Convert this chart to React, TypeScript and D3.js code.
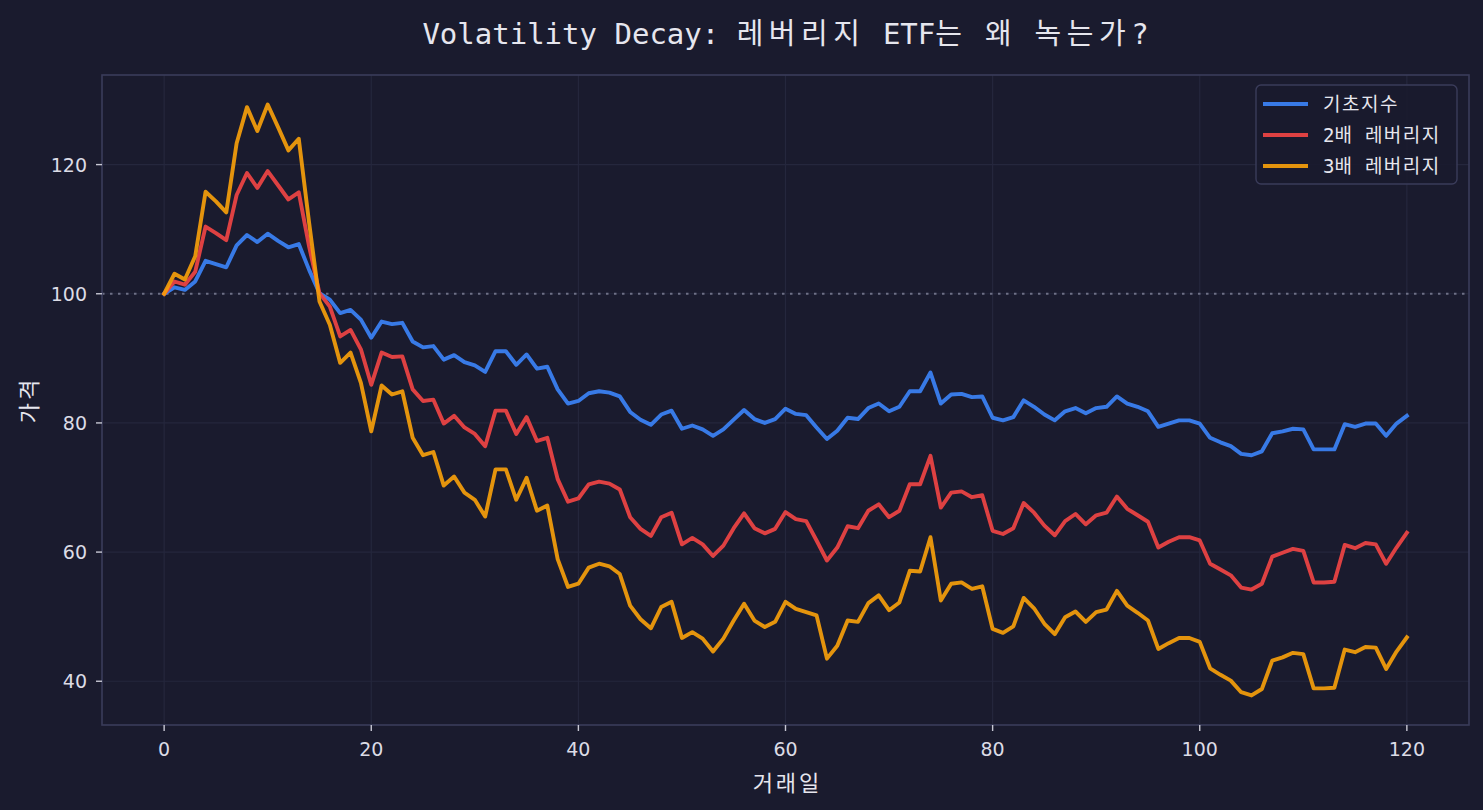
import * as d3 from "d3";
import React, { useEffect } from "react";

// 기초지수 / 2배 / 3배 가격 (거래일 0..120)
const baseIndex = [
  100, 101.0, 100.6, 101.9, 105.1, 104.6, 104.1, 107.5, 109.1, 108.0,
  109.3, 108.2, 107.2, 107.7, 103.7, 100.1, 99.1, 97.0, 97.5, 96.0,
  93.2, 95.7, 95.3, 95.5, 92.6, 91.7, 91.9, 89.8, 90.5, 89.4,
  88.9, 87.9, 91.1, 91.1, 89.0, 90.6, 88.4, 88.7, 85.2, 83.0,
  83.4, 84.6, 84.9, 84.7, 84.1, 81.7, 80.5, 79.7, 81.3, 81.9,
  79.1, 79.6, 79.0, 78.0, 79.0, 80.5, 82.0, 80.6, 80.0, 80.6,
  82.2, 81.4, 81.2, 79.3, 77.5, 78.8, 80.8, 80.6, 82.3, 83.0,
  81.8, 82.5, 84.9, 84.9, 87.8, 83.0, 84.4, 84.5, 84.0, 84.1,
  80.8, 80.4, 80.9, 83.5, 82.5, 81.3, 80.4, 81.8, 82.3, 81.5,
  82.3, 82.5, 84.1, 83.0, 82.5, 81.8, 79.4, 79.9, 80.4, 80.4,
  79.9, 77.7, 77.0, 76.4, 75.2, 75.0, 75.6, 78.4, 78.7, 79.1,
  79.0, 75.9, 75.9, 75.9, 79.8, 79.4, 79.9, 79.9, 78.0, 79.9,
  81.1,
];

const lev2x = [
  100, 101.9, 101.4, 103.4, 110.4, 109.4, 108.3, 115.3, 118.7, 116.4,
  119.0, 116.8, 114.6, 115.7, 107.3, 100.1, 98.0, 93.4, 94.4, 91.4,
  85.9, 90.9, 90.2, 90.3, 85.2, 83.4, 83.6, 79.9, 81.1, 79.3,
  78.3, 76.4, 81.9, 81.9, 78.3, 80.9, 77.2, 77.7, 71.3, 67.8,
  68.3, 70.5, 70.9, 70.6, 69.7, 65.4, 63.6, 62.5, 65.4, 66.1,
  61.2, 62.2, 61.2, 59.4, 61.0, 63.7, 66.0, 63.7, 62.9, 63.6,
  66.2, 65.1, 64.8, 61.8, 58.7, 60.7, 64.0, 63.7, 66.4, 67.4,
  65.4, 66.4, 70.5, 70.5, 74.9, 66.9, 69.2, 69.4, 68.5, 68.8,
  63.3, 62.8, 63.7, 67.6, 66.1, 64.1, 62.6, 64.8, 65.9, 64.3,
  65.7, 66.1, 68.6, 66.7, 65.7, 64.7, 60.7, 61.6, 62.3, 62.3,
  61.8, 58.2, 57.3, 56.4, 54.5, 54.2, 55.1, 59.3, 59.9, 60.5,
  60.2, 55.3, 55.3, 55.4, 61.1, 60.6, 61.4, 61.2, 58.2, 60.7,
  63.0,
];

const lev3x = [
  100, 103.1, 102.2, 105.8, 115.8, 114.3, 112.6, 123.3, 128.9, 125.2,
  129.3, 125.8, 122.2, 124.0, 111.0, 98.8, 95.2, 89.3, 90.9, 86.2,
  78.7, 85.8, 84.4, 84.9, 77.7, 75.0, 75.5, 70.3, 71.7, 69.2,
  68.1, 65.5, 72.8, 72.8, 68.1, 71.5, 66.4, 67.2, 58.9, 54.6,
  55.1, 57.6, 58.2, 57.8, 56.6, 51.7, 49.6, 48.2, 51.5, 52.3,
  46.7, 47.6, 46.6, 44.6, 46.6, 49.4, 52.0, 49.4, 48.4, 49.2,
  52.3, 51.2, 50.7, 50.2, 43.5, 45.5, 49.4, 49.2, 52.1, 53.3,
  51.0, 52.2, 57.1, 57.0, 62.3, 52.5, 55.1, 55.3, 54.3, 54.7,
  48.1, 47.5, 48.5, 52.9, 51.3, 48.9, 47.3, 49.9, 50.8, 49.2,
  50.7, 51.1, 54.0, 51.7, 50.6, 49.4, 45.0, 45.9, 46.7, 46.7,
  46.1, 42.0, 41.0, 40.1, 38.3, 37.8, 38.8, 43.2, 43.7, 44.4,
  44.2, 38.9, 38.9, 39.0, 44.9, 44.5, 45.3, 45.2, 41.9, 44.6,
  46.8,
];

const seriesNames = ["기초지수", "2배 레버리지", "3배 레버리지"];
const seriesColors = ["#3b82f6", "#ef4444", "#f59e0b"];
const xTicks = [0, 20, 40, 60, 80, 100, 120];
const yTicks = [40, 60, 80, 100, 120];
const titleText = "Volatility Decay: 레버리지 ETF는 왜 녹는가?";

const W = 1483;
const H = 810;
const bg = "#1a1b2e";
const plot = { left: 102, right: 1469, top: 75, bottom: 725 };
const monoFont = "'DejaVu Sans Mono', 'Noto Sans CJK KR', monospace";
const tickFont = "'DejaVu Sans', sans-serif";

// 한글은 고정폭 두 칸처럼 보이도록 자간을 더 줌
function MonoText({ text, spacing }: { text: string; spacing: number }) {
  const runs = text.match(/[\uac00-\ud7a3]+|[^\uac00-\ud7a3]+/g) || [];
  return (
    <>
      {runs.map((r, i) => {
        const hangul = /[\uac00-\ud7a3]/.test(r);
        return (
          <tspan key={i} style={hangul ? { letterSpacing: spacing } : undefined}>
            {r}
          </tspan>
        );
      })}
    </>
  );
}

export default function App() {
  useEffect(() => {
    document.body.style.margin = "0";
    document.body.style.background = bg;
  }, []);

  const days = baseIndex.map((_, i) => i);
  const all = [baseIndex, lev2x, lev3x];

  const x = d3.scaleLinear().domain([-6, 126]).range([plot.left, plot.right]);
  const [lo, hi] = d3.extent(all.flat()) as [number, number];
  const pad = (hi - lo) * 0.05;
  const y = d3.scaleLinear().domain([lo - pad, hi + pad]).range([plot.bottom, plot.top]);

  const line = d3
    .line<number>()
    .x((_, i) => x(days[i]))
    .y((d) => y(d));

  const legX = 1256;
  const legY = 85;
  const cx = (plot.left + plot.right) / 2;

  return (
    <svg width={W} height={H} style={{ display: "block", background: bg }}>
      <rect x={0} y={0} width={W} height={H} fill={bg} />
      <text
        x={cx}
        y={44}
        textAnchor="middle"
        fill="#e6e6ee"
        style={{ fontFamily: monoFont, fontSize: 29 }}
      >
        <MonoText text={titleText} spacing={5.5} />
      </text>

      {/* grid */}
      <g>
        {xTicks.map((t) => (
          <line key={"gx" + t} x1={x(t)} x2={x(t)} y1={plot.top} y2={plot.bottom} stroke="#25273d" strokeWidth={1.2} />
        ))}
        {yTicks.map((t) => (
          <line key={"gy" + t} x1={plot.left} x2={plot.right} y1={y(t)} y2={y(t)} stroke="#25273d" strokeWidth={1.2} />
        ))}
      </g>

      {/* 기준선 100 */}
      <line
        x1={plot.left}
        x2={plot.right}
        y1={y(100)}
        y2={y(100)}
        stroke="#6e7086"
        strokeWidth={2}
        strokeDasharray="2.5,5.5"
      />

      {all.map((s, k) => (
        <path
          key={k}
          d={line(s) || ""}
          fill="none"
          stroke={seriesColors[k]}
          strokeOpacity={0.92}
          strokeWidth={3.9}
          strokeLinejoin="round"
          strokeLinecap="square"
        />
      ))}

      {/* frame */}
      <rect
        x={plot.left}
        y={plot.top}
        width={plot.right - plot.left}
        height={plot.bottom - plot.top}
        fill="none"
        stroke="#3a3c5a"
        strokeWidth={1.6}
      />

      {/* x axis */}
      {xTicks.map((t) => (
        <g key={"xt" + t}>
          <line x1={x(t)} x2={x(t)} y1={plot.bottom} y2={plot.bottom + 6} stroke="#c8c8d4" strokeWidth={1.4} />
          <text
            x={x(t)}
            y={plot.bottom + 31}
            textAnchor="middle"
            fill="#dcdce6"
            style={{ fontFamily: tickFont, fontSize: 19 }}
          >
            {t}
          </text>
        </g>
      ))}
      {/* y axis */}
      {yTicks.map((t) => (
        <g key={"yt" + t}>
          <line x1={plot.left - 6} x2={plot.left} y1={y(t)} y2={y(t)} stroke="#c8c8d4" strokeWidth={1.4} />
          <text
            x={plot.left - 15}
            y={y(t) + 7}
            textAnchor="end"
            fill="#dcdce6"
            style={{ fontFamily: tickFont, fontSize: 19 }}
          >
            {t}
          </text>
        </g>
      ))}

      <text
        x={cx + 2}
        y={791}
        textAnchor="middle"
        fill="#e6e6ee"
        style={{ fontFamily: monoFont, fontSize: 22, letterSpacing: 3 }}
      >
        거래일
      </text>
      <text
        transform={`translate(37, ${(plot.top + plot.bottom) / 2}) rotate(-90)`}
        textAnchor="middle"
        fill="#e6e6ee"
        style={{ fontFamily: monoFont, fontSize: 22, letterSpacing: 3 }}
      >
        가격
      </text>

      {/* legend */}
      <rect
        x={legX}
        y={legY}
        width={201}
        height={99}
        rx={5}
        fill={bg}
        fillOpacity={0.9}
        stroke="#3a3c5a"
        strokeWidth={1.4}
      />
      {seriesNames.map((name, k) => (
        <g key={name}>
          <line
            x1={legX + 7}
            x2={legX + 52}
            y1={legY + 19 + k * 31}
            y2={legY + 19 + k * 31}
            stroke={seriesColors[k]}
            strokeOpacity={0.92}
            strokeWidth={3.9}
          />
          <text
            x={legX + 67}
            y={legY + 26 + k * 31}
            fill="#e6e6ee"
            style={{ fontFamily: monoFont, fontSize: 19 }}
          >
            <MonoText text={name} spacing={1.5} />
          </text>
        </g>
      ))}
    </svg>
  );
}
